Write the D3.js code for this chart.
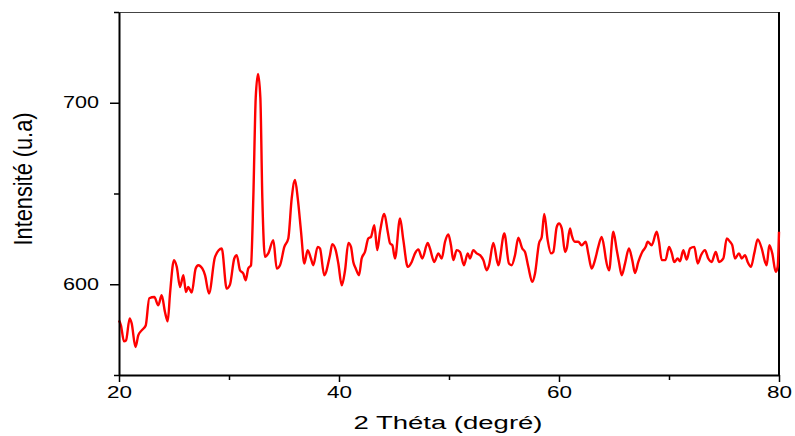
<!DOCTYPE html>
<html>
<head>
<meta charset="utf-8">
<script src="https://cdn.jsdelivr.net/npm/d3@7"></script>
<style>
  html, body { margin: 0; padding: 0; background: #fff; }
  svg { display: block; font-family: "Liberation Sans", Arial, sans-serif; }
</style>
</head>
<body>
<svg id="chart" width="795" height="436"></svg>
<script>
// 2 theta positions (degrees)
var twoTheta = [
  20.00, 20.18, 20.45, 20.64, 20.97, 21.15, 21.50, 21.75, 22.06, 22.43,
  22.75, 23.21, 23.57, 23.88, 24.18, 24.43, 24.64, 25.00, 25.25, 25.55,
  25.85, 26.09, 26.30, 26.61, 26.97, 27.21, 27.57, 27.82, 28.18, 28.73,
  29.34, 29.79, 30.09, 30.48, 30.70, 31.00, 31.30, 31.52, 31.75, 32.00,
  32.21, 32.43, 32.64, 32.85, 33.03, 33.27, 33.57, 34.03, 34.34, 34.64,
  35.03, 35.39, 35.70, 36.00, 36.25, 36.55, 36.85, 37.15, 37.45, 37.66,
  38.06, 38.27, 38.66, 39.18, 39.39, 39.70, 39.94, 40.25, 40.55, 40.85,
  41.09, 41.30, 41.52, 41.82, 42.06, 42.36, 42.66, 42.91, 43.21, 43.48,
  43.73, 44.12, 44.43, 44.64, 44.85, 45.09, 45.55, 45.85, 46.25, 46.61,
  46.91, 47.21, 47.57, 48.06, 48.27, 48.66, 49.03, 49.34, 49.64, 49.94,
  50.18, 50.39, 50.70, 51.00, 51.36, 51.70, 51.91, 52.21, 52.52, 52.82,
  53.12, 53.43, 53.64, 54.03, 54.48, 55.03, 55.45, 55.70, 56.00, 56.30,
  56.66, 56.91, 57.21, 57.57, 57.82, 58.18, 58.43, 58.66, 58.97, 59.27,
  59.48, 59.79, 60.00, 60.25, 60.55, 60.70, 61.00, 61.15, 61.45, 61.75,
  62.06, 62.43, 62.66, 62.97, 63.27, 63.57, 63.88, 64.12, 64.25, 64.55,
  64.94, 65.25, 65.45, 65.70, 66.00, 66.36, 66.66, 66.91, 67.21, 67.57,
  67.88, 68.06, 68.43, 68.88, 69.09, 69.34, 69.68, 70.00, 70.25, 70.48,
  70.79, 71.00, 71.30, 71.61, 71.91, 72.30, 72.61, 72.91, 73.27, 73.57,
  73.88, 74.25, 74.55, 74.94, 75.25, 75.55, 75.75, 76.00, 76.36, 76.61,
  76.91, 77.15, 77.45, 77.75, 78.06, 78.43, 78.73, 78.88, 79.12, 79.39,
  79.70, 79.88, 80.00
];

// intensity (u.a) at each position
var intensity = [
  580.1, 577.3, 568.5, 569.1, 581.2, 578.5, 565.4, 571.8, 574.6, 577.3,
  592.3, 593.0, 588.4, 593.9, 584.7, 579.6, 595.0, 613.3, 609.6, 598.5,
  605.0, 595.7, 598.5, 595.4, 608.7, 610.5, 608.7, 605.0, 594.9, 615.1,
  619.7, 597.6, 599.8, 614.2, 616.0, 607.7, 605.9, 602.2, 608.7, 610.5,
  647.5, 702.8, 715.9, 702.8, 647.5, 615.1, 617.0, 624.3, 608.7, 610.5,
  620.6, 625.2, 647.3, 657.5, 647.3, 628.9, 611.4, 618.8, 614.2, 610.5,
  620.6, 619.7, 605.0, 616.0, 622.1, 618.8, 611.4, 599.4, 607.7, 622.8,
  620.6, 612.3, 608.7, 605.0, 614.2, 617.8, 625.2, 626.1, 632.6, 618.8,
  628.9, 638.7, 628.9, 622.5, 621.5, 614.2, 636.3, 624.3, 609.6, 612.3,
  617.0, 619.2, 614.2, 622.8, 619.7, 612.3, 617.0, 614.2, 623.4, 627.5,
  621.5, 613.3, 618.8, 617.8, 610.5, 617.0, 614.2, 618.8, 617.0, 616.0,
  613.3, 607.7, 610.5, 622.8, 610.5, 628.0, 611.4, 610.5, 616.0, 625.6,
  619.7, 617.8, 609.6, 601.3, 605.9, 622.5, 626.1, 638.7, 624.3, 617.0,
  617.8, 631.5, 633.5, 630.8, 617.8, 619.7, 630.8, 627.1, 623.4, 623.4,
  621.5, 623.4, 617.0, 608.7, 613.3, 620.6, 626.1, 619.7, 614.2, 607.7,
  628.9, 618.8, 612.3, 605.0, 611.4, 619.7, 613.3, 606.2, 612.3, 617.8,
  620.6, 623.4, 621.5, 628.9, 623.4, 613.3, 613.3, 620.6, 617.1, 612.2,
  614.2, 612.7, 618.8, 613.6, 619.7, 620.6, 611.4, 616.0, 618.8, 614.2,
  612.3, 617.8, 612.3, 614.2, 625.2, 623.4, 621.5, 614.2, 617.0, 614.2,
  616.0, 612.3, 609.6, 617.0, 624.7, 619.7, 612.3, 610.5, 621.5, 617.0,
  606.8, 609.6, 628.9
];

var xMajorTicks = [20, 40, 60, 80];
var xMinorTicks = [30, 50, 70];
var yMajorTicks = [600, 700];
var yMinorTicks = [550, 650, 750];

var xTitle = '2 Théta (degré)';
var yTitle = 'Intensité (u.a)';

var svg = d3.select('#chart');

var plot = {left: 119, right: 779, top: 12, bottom: 375};

var x = d3.scaleLinear().domain([20, 80]).range([plot.left, plot.right]);
var y = d3.scaleLinear().domain([550, 750]).range([plot.bottom, plot.top]);

var points = twoTheta.map(function(t, i) {
  return {t: t, v: intensity[i]};
});

// Frame: thin grey top, heavier right edge
svg.append('line')
  .attr('x1', plot.left).attr('x2', plot.right)
  .attr('y1', plot.top + 0.5).attr('y2', plot.top + 0.5)
  .attr('stroke', '#444').attr('stroke-width', 1.2);

svg.append('line')
  .attr('x1', plot.right).attr('x2', plot.right)
  .attr('y1', plot.top).attr('y2', plot.bottom)
  .attr('stroke', '#000').attr('stroke-width', 2);

// Pattern
var line = d3.line()
  .x(function(d) { return x(d.t); })
  .y(function(d) { return y(d.v); })
  .curve(d3.curveMonotoneX);

svg.append('path')
  .datum(points)
  .attr('d', line)
  .attr('fill', 'none')
  .attr('stroke', '#ff0000')
  .attr('stroke-width', 2.4)
  .attr('stroke-linejoin', 'round');

// Axes
function styleAxis(g) {
  g.select('.domain').attr('stroke', '#000').attr('stroke-width', 2);
  g.selectAll('.tick line').attr('stroke', '#000').attr('stroke-width', 1.5);
}

var xMinor = svg.append('g')
  .attr('transform', 'translate(0,' + plot.bottom + ')')
  .call(d3.axisBottom(x).tickValues(xMinorTicks).tickSize(5).tickFormat(''));
xMinor.select('.domain').remove();
styleAxis(xMinor);

var xAxis = svg.append('g')
  .attr('transform', 'translate(0,' + plot.bottom + ')')
  .call(d3.axisBottom(x).tickValues(xMajorTicks).tickSize(7).tickSizeOuter(0)
    .tickFormat(d3.format('d')));
styleAxis(xAxis);
xAxis.selectAll('.tick text')
  .attr('y', 12)
  .attr('dy', '0.71em')
  .attr('fill', '#000')
  .attr('font-size', 16)
  .attr('textLength', 25)
  .attr('lengthAdjust', 'spacingAndGlyphs');

var yMinor = svg.append('g')
  .attr('transform', 'translate(' + plot.left + ',0)')
  .call(d3.axisLeft(y).tickValues(yMinorTicks).tickSize(5).tickFormat(''));
yMinor.select('.domain').remove();
styleAxis(yMinor);

var yAxis = svg.append('g')
  .attr('transform', 'translate(' + plot.left + ',0)')
  .call(d3.axisLeft(y).tickValues(yMajorTicks).tickSize(9).tickSizeOuter(0)
    .tickFormat(d3.format('d')));
styleAxis(yAxis);
yAxis.selectAll('.tick text')
  .attr('x', -20)
  .attr('fill', '#000')
  .attr('font-size', 16)
  .attr('textLength', 36)
  .attr('lengthAdjust', 'spacingAndGlyphs');

svg.selectAll('.tick text').attr('font-family', '"Liberation Sans", Arial, sans-serif');

// Titles
svg.append('text')
  .attr('x', 448)
  .attr('y', 429)
  .attr('text-anchor', 'middle')
  .attr('font-size', 18)
  .attr('textLength', 189)
  .attr('lengthAdjust', 'spacingAndGlyphs')
  .text(xTitle);

svg.append('text')
  .attr('transform', 'translate(32,179) rotate(-90)')
  .attr('text-anchor', 'middle')
  .attr('font-size', 26)
  .attr('textLength', 133)
  .attr('lengthAdjust', 'spacingAndGlyphs')
  .text(yTitle);
</script>
</body>
</html>
